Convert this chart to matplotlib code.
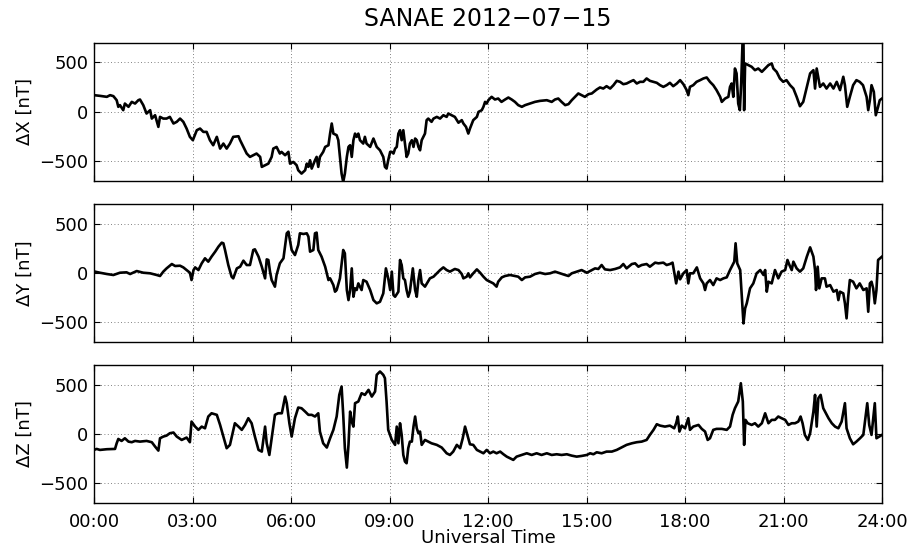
import matplotlib
matplotlib.use('Agg')
import matplotlib.pyplot as plt
import numpy as np

# Station and day
station = 'SANAE'
day = '2012\u221207\u221215'

# Tick positions (hours UT) and their labels
hour_ticks = [0, 3, 6, 9, 12, 15, 18, 21, 24]
hour_labels = ['00:00', '03:00', '06:00', '09:00', '12:00', '15:00', '18:00', '21:00', '24:00']
nt_ticks = [-500, 0, 500]

# Delta X component, hours UT / nT
t_x = [0.00, 0.18, 0.39, 0.49, 0.59, 0.69, 0.74, 0.79, 0.89, 0.94,
       1.05, 1.15, 1.25, 1.35, 1.40, 1.50, 1.60, 1.71, 1.76, 1.86,
       1.96, 2.01, 2.11, 2.21, 2.31, 2.42, 2.52, 2.62, 2.72, 2.82,
       2.92, 3.01, 3.13, 3.23, 3.33, 3.43, 3.53, 3.63, 3.74, 3.84,
       3.94, 4.04, 4.14, 4.24, 4.40, 4.45, 4.55, 4.65, 4.75, 4.85,
       4.95, 5.06, 5.11, 5.21, 5.31, 5.41, 5.46, 5.56, 5.66, 5.71,
       5.82, 5.92, 5.97, 6.07, 6.17, 6.22, 6.32, 6.43, 6.48, 6.53,
       6.58, 6.63, 6.73, 6.78, 6.83, 6.88, 6.98, 7.04, 7.14, 7.19,
       7.24, 7.29, 7.39, 7.44, 7.49, 7.54, 7.59, 7.64, 7.70, 7.75,
       7.80, 7.85, 7.90, 7.95, 8.00, 8.05, 8.10, 8.20, 8.25, 8.30,
       8.41, 8.51, 8.61, 8.71, 8.81, 8.86, 8.91, 8.96, 9.02, 9.07,
       9.12, 9.17, 9.22, 9.27, 9.32, 9.37, 9.42, 9.47, 9.52, 9.57,
       9.62, 9.68, 9.73, 9.78, 9.83, 9.88, 9.93, 9.98, 10.08, 10.13,
       10.18, 10.28, 10.34, 10.44, 10.54, 10.64, 10.74, 10.79, 10.89, 10.99,
       11.10, 11.20, 11.25, 11.33, 11.40, 11.45, 11.55, 11.66, 11.71, 11.81,
       11.86, 11.91, 11.96, 12.01, 12.11, 12.21, 12.31, 12.41, 12.52, 12.62,
       12.72, 12.82, 12.92, 13.03, 13.13, 13.28, 13.43, 13.58, 13.79, 13.94,
       14.04, 14.14, 14.24, 14.35, 14.45, 14.55, 14.65, 14.75, 14.85, 14.95,
       15.06, 15.16, 15.31, 15.41, 15.51, 15.61, 15.72, 15.82, 15.92, 16.02,
       16.12, 16.22, 16.32, 16.43, 16.53, 16.63, 16.73, 16.83, 16.93, 17.04,
       17.14, 17.24, 17.34, 17.44, 17.54, 17.64, 17.75, 17.85, 17.95, 18.05,
       18.10, 18.15, 18.25, 18.35, 18.46, 18.56, 18.66, 18.76, 18.86, 18.96,
       19.07, 19.12, 19.22, 19.32, 19.37, 19.42, 19.47, 19.52, 19.57, 19.62,
       19.67, 19.71, 19.75, 19.78, 19.80, 19.83, 19.93, 20.03, 20.13, 20.23,
       20.34, 20.44, 20.54, 20.64, 20.69, 20.79, 20.89, 20.99, 21.09, 21.20,
       21.30, 21.40, 21.50, 21.60, 21.71, 21.81, 21.91, 21.96, 22.01, 22.11,
       22.21, 22.31, 22.42, 22.52, 22.62, 22.72, 22.82, 22.87, 22.94, 23.02,
       23.12, 23.22, 23.32, 23.42, 23.53, 23.58, 23.63, 23.68, 23.75, 23.81,
       23.88, 23.93, 24.00]
dX = [169, 162, 152, 169, 159, 118, 51, 68, 17, 84,
      51, 101, 84, 118, 125, 68, -17, 17, -68, -34,
      -152, -51, -68, -68, -51, -118, -101, -68, -101, -169,
      -253, -287, -186, -169, -203, -203, -287, -338, -253, -372,
      -321, -372, -321, -253, -247, -287, -355, -422, -456, -439,
      -422, -456, -557, -540, -524, -456, -372, -355, -422, -405,
      -439, -405, -524, -507, -540, -591, -625, -591, -524, -557,
      -490, -574, -490, -456, -557, -456, -405, -355, -338, -220,
      -118, -220, -236, -287, -456, -625, -710, -625, -456, -355,
      -338, -456, -287, -220, -253, -220, -287, -321, -253, -321,
      -355, -270, -355, -389, -456, -557, -574, -490, -405, -405,
      -422, -372, -355, -220, -186, -287, -186, -321, -456, -422,
      -321, -287, -355, -270, -287, -355, -389, -287, -220, -84,
      -68, -101, -68, -51, -68, -34, -51, -17, -34, -51,
      -110, -84, -118, -152, -220, -169, -84, -51, 0, 17,
      51, 101, 84, 118, 152, 125, 135, 101, 125, 145,
      125, 101, 68, 51, 68, 84, 101, 111, 118, 101,
      125, 135, 101, 68, 78, 118, 152, 186, 169, 152,
      179, 186, 226, 247, 236, 260, 236, 270, 314, 304,
      280, 287, 304, 321, 287, 304, 304, 338, 314, 304,
      294, 270, 253, 270, 294, 260, 287, 321, 280, 220,
      169, 253, 270, 304, 321, 338, 348, 304, 270, 220,
      152, 101, 135, 152, 253, 287, 152, 439, 389, 84,
      17, 287, 692, 726, 17, 490, 473, 456, 422, 439,
      405, 439, 473, 490, 439, 405, 338, 304, 321, 270,
      236, 152, 57, 101, 253, 389, 422, 236, 439, 253,
      287, 236, 287, 236, 304, 220, 355, 270, 51, 152,
      270, 321, 304, 270, 152, 17, 118, 270, 203, -34,
      51, 118, 135]

# Delta Y component, hours UT / nT
t_y = [0.03, 0.18, 0.39, 0.59, 0.79, 0.99, 1.10, 1.30, 1.50, 1.71,
       1.91, 2.01, 2.11, 2.21, 2.37, 2.47, 2.62, 2.72, 2.82, 2.92,
       2.97, 3.03, 3.08, 3.18, 3.28, 3.38, 3.48, 3.58, 3.69, 3.79,
       3.89, 3.94, 3.99, 4.09, 4.19, 4.24, 4.35, 4.45, 4.55, 4.65,
       4.75, 4.85, 4.90, 5.01, 5.11, 5.21, 5.26, 5.31, 5.36, 5.41,
       5.51, 5.56, 5.66, 5.77, 5.87, 5.92, 6.02, 6.12, 6.22, 6.27,
       6.38, 6.48, 6.53, 6.58, 6.68, 6.73, 6.78, 6.83, 6.93, 7.04,
       7.14, 7.19, 7.29, 7.34, 7.39, 7.49, 7.59, 7.64, 7.70, 7.75,
       7.80, 7.85, 7.90, 7.95, 8.00, 8.05, 8.15, 8.20, 8.30, 8.41,
       8.51, 8.61, 8.71, 8.81, 8.89, 8.96, 9.02, 9.07, 9.12, 9.17,
       9.27, 9.32, 9.37, 9.42, 9.47, 9.52, 9.57, 9.62, 9.71, 9.78,
       9.83, 9.88, 9.93, 9.98, 10.08, 10.23, 10.34, 10.44, 10.54, 10.64,
       10.74, 10.84, 10.99, 11.10, 11.20, 11.25, 11.35, 11.40, 11.45, 11.55,
       11.66, 11.76, 11.86, 11.96, 12.06, 12.16, 12.26, 12.31, 12.42, 12.52,
       12.67, 12.82, 12.92, 13.03, 13.13, 13.28, 13.43, 13.58, 13.74, 13.89,
       14.04, 14.19, 14.35, 14.45, 14.55, 14.70, 14.85, 15.01, 15.16, 15.26,
       15.36, 15.46, 15.56, 15.72, 15.87, 16.02, 16.12, 16.22, 16.38, 16.48,
       16.58, 16.68, 16.83, 16.93, 17.09, 17.19, 17.34, 17.44, 17.54, 17.62,
       17.66, 17.73, 17.80, 17.85, 17.95, 18.05, 18.10, 18.15, 18.25, 18.36,
       18.46, 18.56, 18.61, 18.66, 18.76, 18.86, 18.96, 19.07, 19.17, 19.27,
       19.37, 19.45, 19.50, 19.54, 19.59, 19.68, 19.73, 19.78, 19.83, 19.88,
       19.98, 20.08, 20.18, 20.29, 20.39, 20.44, 20.49, 20.54, 20.64, 20.74,
       20.84, 20.94, 21.05, 21.12, 21.18, 21.25, 21.30, 21.40, 21.50, 21.60,
       21.71, 21.81, 21.91, 21.96, 21.99, 22.04, 22.09, 22.16, 22.26, 22.31,
       22.42, 22.52, 22.62, 22.67, 22.72, 22.82, 22.87, 22.92, 22.97, 23.02,
       23.12, 23.22, 23.32, 23.43, 23.53, 23.58, 23.63, 23.68, 23.73, 23.78,
       23.83, 23.88, 24.00]
dY = [14, 3, -10, -20, 3, 7, -10, 20, 3, -3,
      -20, -30, 14, 47, 91, 71, 74, 57, 30, 3,
      -71, 30, 57, 30, 98, 149, 115, 166, 216, 267,
      307, 301, 233, 81, -37, -54, 47, 64, 125, 81,
      81, 233, 240, 166, 64, -54, 138, 132, 14, -71,
      -138, -20, 98, 149, 402, 419, 233, 182, 284, 402,
      395, 402, 368, 216, 233, 402, 409, 233, 166, 64,
      -71, -54, -122, -189, -172, -54, 233, 199, -172, -274,
      -172, 47, -240, -155, -172, -105, -172, -71, -88, -172,
      -274, -307, -291, -206, 47, -54, -172, 14, -223, -240,
      -189, 132, 81, -54, -71, -172, -240, -189, 47, -172,
      -240, -71, 30, -105, -138, -54, -37, -3, 30, 57,
      30, 14, 41, 30, -10, -54, -37, -3, -44, -3,
      37, 3, -37, -71, -88, -105, -138, -88, -44, -30,
      -20, -30, -37, -71, -44, -37, -10, 3, -10, -3,
      14, -3, -20, -30, -3, 14, 30, 3, 30, 47,
      41, 81, 37, 30, 41, 57, 91, 47, 91, 98,
      64, 81, 91, 64, 105, 98, 105, 81, 91, 105,
      30, -105, 14, -64, -3, 30, -105, -3, -3, 57,
      -54, -105, -172, -105, -71, -122, -54, -71, -54, -44,
      30, 81, 115, 301, 98, 30, -240, -510, -358, -307,
      -155, -105, -3, 30, -20, 30, -189, -88, -105, 30,
      -54, 14, 30, 132, 81, 30, 115, 47, 14, 47,
      166, 260, 166, 30, -172, 64, -155, -54, -54, -138,
      -122, -189, -172, -274, -189, -206, -307, -459, -240, -71,
      -88, -155, -105, -172, -155, -392, -105, -88, -155, -307,
      -172, 132, 166]

# Delta Z component, hours UT / nT
t_z = [0.00, 0.08, 0.18, 0.39, 0.64, 0.69, 0.74, 0.84, 0.94, 1.05,
       1.15, 1.25, 1.40, 1.60, 1.76, 1.86, 1.96, 2.01, 2.11, 2.21,
       2.31, 2.42, 2.52, 2.67, 2.82, 2.92, 2.97, 3.08, 3.18, 3.28,
       3.38, 3.48, 3.58, 3.74, 3.84, 3.94, 4.04, 4.14, 4.29, 4.40,
       4.50, 4.60, 4.70, 4.80, 4.90, 5.01, 5.11, 5.21, 5.26, 5.34,
       5.41, 5.51, 5.61, 5.72, 5.82, 5.87, 5.95, 6.02, 6.12, 6.22,
       6.32, 6.43, 6.53, 6.63, 6.73, 6.83, 6.88, 6.98, 7.09, 7.19,
       7.29, 7.39, 7.47, 7.54, 7.59, 7.64, 7.70, 7.75, 7.80, 7.85,
       7.90, 7.95, 8.05, 8.15, 8.25, 8.36, 8.46, 8.56, 8.61, 8.71,
       8.81, 8.86, 8.91, 8.96, 9.07, 9.17, 9.22, 9.27, 9.32, 9.37,
       9.42, 9.47, 9.52, 9.57, 9.62, 9.68, 9.73, 9.78, 9.83, 9.88,
       9.93, 9.98, 10.08, 10.18, 10.28, 10.44, 10.59, 10.74, 10.84, 10.94,
       11.05, 11.15, 11.23, 11.30, 11.37, 11.45, 11.55, 11.66, 11.76, 11.86,
       11.96, 12.06, 12.16, 12.26, 12.37, 12.47, 12.57, 12.67, 12.77, 12.87,
       13.03, 13.18, 13.33, 13.48, 13.63, 13.79, 13.94, 14.09, 14.24, 14.40,
       14.55, 14.70, 14.85, 15.01, 15.11, 15.21, 15.31, 15.46, 15.61, 15.77,
       15.92, 16.02, 16.12, 16.22, 16.38, 16.53, 16.68, 16.83, 16.93, 17.04,
       17.14, 17.24, 17.39, 17.54, 17.67, 17.73, 17.78, 17.83, 17.90, 18.00,
       18.10, 18.15, 18.25, 18.41, 18.51, 18.61, 18.69, 18.76, 18.86, 18.96,
       19.12, 19.27, 19.37, 19.45, 19.52, 19.62, 19.70, 19.76, 19.80, 19.84,
       19.91, 20.03, 20.13, 20.23, 20.34, 20.44, 20.54, 20.64, 20.74, 20.84,
       20.94, 21.05, 21.15, 21.25, 21.35, 21.45, 21.52, 21.58, 21.65, 21.74,
       21.81, 21.91, 21.96, 22.01, 22.06, 22.13, 22.21, 22.37, 22.47, 22.57,
       22.67, 22.77, 22.87, 22.92, 23.02, 23.12, 23.22, 23.33, 23.43, 23.51,
       23.55, 23.61, 23.68, 23.78, 23.83, 24.00]
dZ = [-162, -152, -162, -155, -152, -95, -51, -71, -44, -78,
      -84, -71, -78, -71, -84, -128, -169, -44, -27, -17,
      7, 14, -27, -61, -37, -84, 125, 74, 41, 74,
      57, 176, 209, 193, 91, -27, -145, -111, 108, 74,
      41, 91, 159, 108, -27, -162, -179, 74, -95, -213,
      -44, 193, 209, 209, 378, 311, 108, -27, 159, 267,
      260, 226, 193, 193, 176, 209, 24, -95, -138, -44,
      41, 176, 395, 480, 193, -145, -341, -111, 226, 125,
      74, 311, 328, 412, 395, 446, 378, 429, 598, 632,
      598, 564, 328, 41, -61, -111, 74, -95, 108, -10,
      -213, -280, -297, -145, -78, -78, 74, 176, 57, 7,
      24, -111, -61, -78, -95, -111, -138, -196, -213, -179,
      -111, -145, -44, 74, -10, -105, -111, -162, -179, -196,
      -162, -196, -179, -196, -179, -206, -230, -247, -263, -230,
      -213, -196, -213, -196, -213, -196, -213, -206, -213, -206,
      -220, -230, -223, -213, -196, -206, -186, -196, -179, -179,
      -162, -145, -128, -111, -95, -84, -78, -61, -10, 41,
      98, 84, 74, 84, 57, 108, 176, 24, 84, 57,
      159, 41, 74, 91, 51, 24, -61, -44, 41, 51,
      51, 41, 74, 193, 260, 328, 513, 328, -111, 142,
      108, 91, 108, 74, 108, 209, 108, 142, 142, 176,
      159, 142, 91, 108, 108, 125, 176, 108, -10, -61,
      7, 226, 395, 74, 361, 395, 260, 159, 108, 74,
      57, 125, 311, 57, -44, -105, -78, -44, -10, 209,
      311, 91, -10, 311, -44, -10]

components = [('\u0394X [nT]', t_x, dX),
              ('\u0394Y [nT]', t_y, dY),
              ('\u0394Z [nT]', t_z, dZ)]

plt.rcParams['font.family'] = 'DejaVu Sans'
plt.rcParams['font.size'] = 13


def style_axis(ax, show_xlabels):
    """ Boxed axes with inward ticks on all sides and a dotted grid. """
    ax.set_xlim(0, 24)
    ax.set_ylim(-700, 700)
    ax.set_xticks(hour_ticks)
    ax.set_yticks(nt_ticks)
    ax.tick_params(direction='in', top=True, right=True, length=4, width=0.8,
                   labelsize=13, pad=4)
    ax.tick_params(axis='x', pad=7)
    if show_xlabels:
        ax.set_xticklabels(hour_labels)
    else:
        ax.set_xticklabels([])
    ax.grid(True, linestyle=(0, (1, 3)), color='0.35', linewidth=0.6)
    for spine in ax.spines.values():
        spine.set_linewidth(1.0)


fig = plt.figure(figsize=(9.11, 5.51), dpi=100)

# Panel geometry in figure fractions (left, bottom, width, height)
left, width, height = 0.1032, 0.8650, 0.2510
bottoms = [0.6715, 0.3790, 0.0870]

axes = []
for i, (label, t, vals) in enumerate(components):
    ax = fig.add_axes([left, bottoms[i], width, height])
    ax.plot(t, vals, color='black', linewidth=1.9, solid_joinstyle='round')
    style_axis(ax, show_xlabels=(i == len(components) - 1))
    ax.set_ylabel(label, fontsize=13)
    ax.yaxis.set_label_coords(-0.077, 0.5)
    axes.append(ax)

axes[0].set_title(f'{station} {day}', fontsize=17, pad=12)
axes[-1].set_xlabel('Universal Time', fontsize=13)
axes[-1].xaxis.set_label_coords(0.5, -0.19)

fig.savefig('out.png', dpi=100)
